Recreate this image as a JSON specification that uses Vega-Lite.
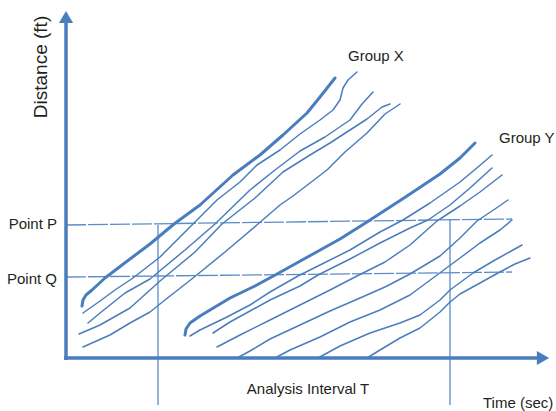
{
  "$schema": "https://vega.github.io/schema/vega-lite/v6.json",
  "width": 556,
  "height": 411,
  "autosize": {"type": "none"},
  "padding": 0,
  "background": "white",
  "config": {"view": {"stroke": null}},
  "datasets": {
    "traj": [
      {"veh": "X1", "role": "lead", "t": 16, "d": 52}, {"veh": "X1", "role": "lead", "t": 17, "d": 58}, {"veh": "X1", "role": "lead", "t": 20, "d": 63}, {"veh": "X1", "role": "lead", "t": 26, "d": 68}, {"veh": "X1", "role": "lead", "t": 39, "d": 80}, {"veh": "X1", "role": "lead", "t": 60, "d": 96}, {"veh": "X1", "role": "lead", "t": 84, "d": 114}, {"veh": "X1", "role": "lead", "t": 108, "d": 134}, {"veh": "X1", "role": "lead", "t": 134, "d": 153}, {"veh": "X1", "role": "lead", "t": 167, "d": 183}, {"veh": "X1", "role": "lead", "t": 194, "d": 203}, {"veh": "X1", "role": "lead", "t": 217, "d": 223}, {"veh": "X1", "role": "lead", "t": 241, "d": 245}, {"veh": "X1", "role": "lead", "t": 254, "d": 261}, {"veh": "X1", "role": "lead", "t": 269, "d": 280},
      {"veh": "X2", "role": "follow", "t": 17, "d": 45}, {"veh": "X2", "role": "follow", "t": 34, "d": 57}, {"veh": "X2", "role": "follow", "t": 49, "d": 68}, {"veh": "X2", "role": "follow", "t": 67, "d": 80}, {"veh": "X2", "role": "follow", "t": 94, "d": 101}, {"veh": "X2", "role": "follow", "t": 126, "d": 133}, {"veh": "X2", "role": "follow", "t": 151, "d": 158}, {"veh": "X2", "role": "follow", "t": 174, "d": 176}, {"veh": "X2", "role": "follow", "t": 191, "d": 193}, {"veh": "X2", "role": "follow", "t": 214, "d": 208}, {"veh": "X2", "role": "follow", "t": 234, "d": 224}, {"veh": "X2", "role": "follow", "t": 254, "d": 238}, {"veh": "X2", "role": "follow", "t": 267, "d": 248}, {"veh": "X2", "role": "follow", "t": 274, "d": 258}, {"veh": "X2", "role": "follow", "t": 277, "d": 270}, {"veh": "X2", "role": "follow", "t": 282, "d": 278}, {"veh": "X2", "role": "follow", "t": 291, "d": 286},
      {"veh": "X3", "role": "follow", "t": 22, "d": 35}, {"veh": "X3", "role": "follow", "t": 34, "d": 45}, {"veh": "X3", "role": "follow", "t": 59, "d": 65}, {"veh": "X3", "role": "follow", "t": 84, "d": 79}, {"veh": "X3", "role": "follow", "t": 119, "d": 108}, {"veh": "X3", "role": "follow", "t": 149, "d": 134}, {"veh": "X3", "role": "follow", "t": 184, "d": 168}, {"veh": "X3", "role": "follow", "t": 209, "d": 188}, {"veh": "X3", "role": "follow", "t": 234, "d": 207}, {"veh": "X3", "role": "follow", "t": 259, "d": 221}, {"veh": "X3", "role": "follow", "t": 284, "d": 238}, {"veh": "X3", "role": "follow", "t": 296, "d": 254}, {"veh": "X3", "role": "follow", "t": 307, "d": 266},
      {"veh": "X4", "role": "follow", "t": 13, "d": 24}, {"veh": "X4", "role": "follow", "t": 34, "d": 33}, {"veh": "X4", "role": "follow", "t": 64, "d": 50}, {"veh": "X4", "role": "follow", "t": 94, "d": 77}, {"veh": "X4", "role": "follow", "t": 129, "d": 106}, {"veh": "X4", "role": "follow", "t": 156, "d": 134}, {"veh": "X4", "role": "follow", "t": 189, "d": 160}, {"veh": "X4", "role": "follow", "t": 217, "d": 186}, {"veh": "X4", "role": "follow", "t": 244, "d": 203}, {"veh": "X4", "role": "follow", "t": 264, "d": 215}, {"veh": "X4", "role": "follow", "t": 284, "d": 228}, {"veh": "X4", "role": "follow", "t": 301, "d": 239}, {"veh": "X4", "role": "follow", "t": 316, "d": 251}, {"veh": "X4", "role": "follow", "t": 324, "d": 254},
      {"veh": "X5", "role": "follow", "t": 17, "d": 11}, {"veh": "X5", "role": "follow", "t": 44, "d": 23}, {"veh": "X5", "role": "follow", "t": 64, "d": 35}, {"veh": "X5", "role": "follow", "t": 84, "d": 46}, {"veh": "X5", "role": "follow", "t": 99, "d": 58}, {"veh": "X5", "role": "follow", "t": 127, "d": 80}, {"veh": "X5", "role": "follow", "t": 159, "d": 106}, {"veh": "X5", "role": "follow", "t": 192, "d": 134}, {"veh": "X5", "role": "follow", "t": 214, "d": 153}, {"veh": "X5", "role": "follow", "t": 227, "d": 162}, {"veh": "X5", "role": "follow", "t": 244, "d": 175}, {"veh": "X5", "role": "follow", "t": 261, "d": 188}, {"veh": "X5", "role": "follow", "t": 279, "d": 206}, {"veh": "X5", "role": "follow", "t": 301, "d": 225}, {"veh": "X5", "role": "follow", "t": 319, "d": 244}, {"veh": "X5", "role": "follow", "t": 334, "d": 254},
      {"veh": "Y1", "role": "lead", "t": 119, "d": 23}, {"veh": "Y1", "role": "lead", "t": 120, "d": 29}, {"veh": "Y1", "role": "lead", "t": 124, "d": 35}, {"veh": "Y1", "role": "lead", "t": 134, "d": 42}, {"veh": "Y1", "role": "lead", "t": 164, "d": 60}, {"veh": "Y1", "role": "lead", "t": 189, "d": 72}, {"veh": "Y1", "role": "lead", "t": 211, "d": 84}, {"veh": "Y1", "role": "lead", "t": 247, "d": 104}, {"veh": "Y1", "role": "lead", "t": 274, "d": 119}, {"veh": "Y1", "role": "lead", "t": 301, "d": 136}, {"veh": "Y1", "role": "lead", "t": 341, "d": 162}, {"veh": "Y1", "role": "lead", "t": 374, "d": 184}, {"veh": "Y1", "role": "lead", "t": 394, "d": 200}, {"veh": "Y1", "role": "lead", "t": 409, "d": 215},
      {"veh": "Y2", "role": "follow", "t": 124, "d": 22}, {"veh": "Y2", "role": "follow", "t": 134, "d": 28}, {"veh": "Y2", "role": "follow", "t": 159, "d": 40}, {"veh": "Y2", "role": "follow", "t": 184, "d": 53}, {"veh": "Y2", "role": "follow", "t": 204, "d": 66}, {"veh": "Y2", "role": "follow", "t": 232, "d": 82}, {"veh": "Y2", "role": "follow", "t": 254, "d": 93}, {"veh": "Y2", "role": "follow", "t": 284, "d": 108}, {"veh": "Y2", "role": "follow", "t": 314, "d": 126}, {"veh": "Y2", "role": "follow", "t": 337, "d": 138}, {"veh": "Y2", "role": "follow", "t": 364, "d": 155}, {"veh": "Y2", "role": "follow", "t": 394, "d": 176}, {"veh": "Y2", "role": "follow", "t": 412, "d": 191}, {"veh": "Y2", "role": "follow", "t": 426, "d": 203},
      {"veh": "Y3", "role": "follow", "t": 147, "d": 25}, {"veh": "Y3", "role": "follow", "t": 164, "d": 36}, {"veh": "Y3", "role": "follow", "t": 184, "d": 47}, {"veh": "Y3", "role": "follow", "t": 204, "d": 58}, {"veh": "Y3", "role": "follow", "t": 234, "d": 72}, {"veh": "Y3", "role": "follow", "t": 252, "d": 83}, {"veh": "Y3", "role": "follow", "t": 284, "d": 99}, {"veh": "Y3", "role": "follow", "t": 314, "d": 115}, {"veh": "Y3", "role": "follow", "t": 344, "d": 130}, {"veh": "Y3", "role": "follow", "t": 362, "d": 138}, {"veh": "Y3", "role": "follow", "t": 384, "d": 153}, {"veh": "Y3", "role": "follow", "t": 404, "d": 170}, {"veh": "Y3", "role": "follow", "t": 426, "d": 190},
      {"veh": "Y4", "role": "follow", "t": 151, "d": 11}, {"veh": "Y4", "role": "follow", "t": 174, "d": 23}, {"veh": "Y4", "role": "follow", "t": 204, "d": 38}, {"veh": "Y4", "role": "follow", "t": 234, "d": 53}, {"veh": "Y4", "role": "follow", "t": 264, "d": 68}, {"veh": "Y4", "role": "follow", "t": 291, "d": 82}, {"veh": "Y4", "role": "follow", "t": 319, "d": 96}, {"veh": "Y4", "role": "follow", "t": 344, "d": 113}, {"veh": "Y4", "role": "follow", "t": 371, "d": 137}, {"veh": "Y4", "role": "follow", "t": 394, "d": 152}, {"veh": "Y4", "role": "follow", "t": 414, "d": 166}, {"veh": "Y4", "role": "follow", "t": 436, "d": 183},
      {"veh": "Y5", "role": "follow", "t": 171, "d": 0}, {"veh": "Y5", "role": "follow", "t": 184, "d": 7}, {"veh": "Y5", "role": "follow", "t": 204, "d": 19}, {"veh": "Y5", "role": "follow", "t": 234, "d": 33}, {"veh": "Y5", "role": "follow", "t": 264, "d": 47}, {"veh": "Y5", "role": "follow", "t": 294, "d": 60}, {"veh": "Y5", "role": "follow", "t": 319, "d": 71}, {"veh": "Y5", "role": "follow", "t": 344, "d": 84}, {"veh": "Y5", "role": "follow", "t": 374, "d": 102}, {"veh": "Y5", "role": "follow", "t": 394, "d": 120}, {"veh": "Y5", "role": "follow", "t": 411, "d": 137}, {"veh": "Y5", "role": "follow", "t": 429, "d": 149}, {"veh": "Y5", "role": "follow", "t": 442, "d": 158},
      {"veh": "Y6", "role": "follow", "t": 209, "d": 0}, {"veh": "Y6", "role": "follow", "t": 224, "d": 8}, {"veh": "Y6", "role": "follow", "t": 254, "d": 21}, {"veh": "Y6", "role": "follow", "t": 284, "d": 36}, {"veh": "Y6", "role": "follow", "t": 314, "d": 48}, {"veh": "Y6", "role": "follow", "t": 344, "d": 63}, {"veh": "Y6", "role": "follow", "t": 371, "d": 83}, {"veh": "Y6", "role": "follow", "t": 394, "d": 100}, {"veh": "Y6", "role": "follow", "t": 414, "d": 115}, {"veh": "Y6", "role": "follow", "t": 434, "d": 128}, {"veh": "Y6", "role": "follow", "t": 446, "d": 138},
      {"veh": "Y7", "role": "follow", "t": 252, "d": 0}, {"veh": "Y7", "role": "follow", "t": 274, "d": 12}, {"veh": "Y7", "role": "follow", "t": 304, "d": 25}, {"veh": "Y7", "role": "follow", "t": 334, "d": 35}, {"veh": "Y7", "role": "follow", "t": 354, "d": 43}, {"veh": "Y7", "role": "follow", "t": 374, "d": 58}, {"veh": "Y7", "role": "follow", "t": 384, "d": 68}, {"veh": "Y7", "role": "follow", "t": 407, "d": 85}, {"veh": "Y7", "role": "follow", "t": 429, "d": 98}, {"veh": "Y7", "role": "follow", "t": 447, "d": 108}, {"veh": "Y7", "role": "follow", "t": 456, "d": 113},
      {"veh": "Y8", "role": "follow", "t": 301, "d": 0}, {"veh": "Y8", "role": "follow", "t": 314, "d": 8}, {"veh": "Y8", "role": "follow", "t": 334, "d": 20}, {"veh": "Y8", "role": "follow", "t": 354, "d": 30}, {"veh": "Y8", "role": "follow", "t": 374, "d": 46}, {"veh": "Y8", "role": "follow", "t": 384, "d": 56}, {"veh": "Y8", "role": "follow", "t": 394, "d": 64}, {"veh": "Y8", "role": "follow", "t": 414, "d": 75}, {"veh": "Y8", "role": "follow", "t": 432, "d": 85}, {"veh": "Y8", "role": "follow", "t": 449, "d": 94}, {"veh": "Y8", "role": "follow", "t": 464, "d": 100}
    ]
  },
  "layer": [
    {
      "data": {"values": [{"name": "P", "t": 0, "d": 133}, {"name": "P", "t": 446, "d": 139}, {"name": "Q", "t": 0, "d": 81}, {"name": "Q", "t": 446, "d": 86}]},
      "mark": {"type": "line", "color": "#5b8cca", "strokeWidth": 1.3, "strokeDash": [20, 2]},
      "encoding": {
        "x": {"field": "t", "type": "quantitative", "scale": {"domain": [-66, 490], "nice": false, "zero": false}, "axis": null},
        "y": {"field": "d", "type": "quantitative", "scale": {"domain": [-53, 358], "nice": false, "zero": false}, "axis": null},
        "detail": {"field": "name"}
      }
    },
    {
      "data": {"values": [{"t": 92, "d": 133, "d2": -47}, {"t": 384, "d": 139, "d2": -47}]},
      "mark": {"type": "rule", "color": "#5b8cca", "strokeWidth": 1.3},
      "encoding": {
        "x": {"field": "t", "type": "quantitative", "scale": {"domain": [-66, 490], "nice": false, "zero": false}, "axis": null},
        "y": {"field": "d", "type": "quantitative", "scale": {"domain": [-53, 358], "nice": false, "zero": false}, "axis": null},
        "y2": {"field": "d2"}
      }
    },
    {
      "data": {"name": "traj"},
      "transform": [{"filter": "datum.role === 'follow'"}],
      "mark": {"type": "line", "color": "#4a7dbd", "strokeWidth": 1.5, "strokeCap": "round", "strokeJoin": "round"},
      "encoding": {
        "x": {"field": "t", "type": "quantitative", "scale": {"domain": [-66, 490], "nice": false, "zero": false}, "axis": null},
        "y": {"field": "d", "type": "quantitative", "scale": {"domain": [-53, 358], "nice": false, "zero": false}, "axis": null},
        "detail": {"field": "veh"}
      }
    },
    {
      "data": {"name": "traj"},
      "transform": [{"filter": "datum.role === 'lead'"}],
      "mark": {"type": "line", "color": "#4a7dbd", "strokeWidth": 3, "strokeCap": "round", "strokeJoin": "round"},
      "encoding": {
        "x": {"field": "t", "type": "quantitative", "scale": {"domain": [-66, 490], "nice": false, "zero": false}, "axis": null},
        "y": {"field": "d", "type": "quantitative", "scale": {"domain": [-53, 358], "nice": false, "zero": false}, "axis": null},
        "detail": {"field": "veh"}
      }
    },
    {
      "data": {"values": [{"t": 0, "d": -2, "d2": 338}]},
      "mark": {"type": "rule", "color": "#4a7dbd", "strokeWidth": 3.5},
      "encoding": {
        "x": {"field": "t", "type": "quantitative", "scale": {"domain": [-66, 490], "nice": false, "zero": false}, "axis": null},
        "y": {"field": "d", "type": "quantitative", "scale": {"domain": [-53, 358], "nice": false, "zero": false}, "axis": null},
        "y2": {"field": "d2"}
      }
    },
    {
      "data": {"values": [{"t": -2, "t2": 474, "d": 0}]},
      "mark": {"type": "rule", "color": "#4a7dbd", "strokeWidth": 3.5},
      "encoding": {
        "x": {"field": "t", "type": "quantitative", "scale": {"domain": [-66, 490], "nice": false, "zero": false}, "axis": null},
        "x2": {"field": "t2"},
        "y": {"field": "d", "type": "quantitative", "scale": {"domain": [-53, 358], "nice": false, "zero": false}, "axis": null}
      }
    },
    {
      "data": {"values": [{"t": 0, "d": 341}]},
      "mark": {"type": "point", "shape": "triangle-up", "filled": true, "color": "#4a7dbd", "size": 200, "opacity": 1},
      "encoding": {
        "x": {"field": "t", "type": "quantitative", "scale": {"domain": [-66, 490], "nice": false, "zero": false}, "axis": null},
        "y": {"field": "d", "type": "quantitative", "scale": {"domain": [-53, 358], "nice": false, "zero": false}, "axis": null}
      }
    },
    {
      "data": {"values": [{"t": 477, "d": 0}]},
      "mark": {"type": "point", "shape": "triangle-right", "filled": true, "color": "#4a7dbd", "size": 200, "opacity": 1},
      "encoding": {
        "x": {"field": "t", "type": "quantitative", "scale": {"domain": [-66, 490], "nice": false, "zero": false}, "axis": null},
        "y": {"field": "d", "type": "quantitative", "scale": {"domain": [-53, 358], "nice": false, "zero": false}, "axis": null}
      }
    },
    {
      "data": {"values": [{"label": "Group X", "t": 282, "d": 297}, {"label": "Group Y", "t": 433, "d": 215}, {"label": "Time (sec)", "t": 417, "d": -50}]},
      "mark": {"type": "text", "align": "left", "baseline": "alphabetic", "font": "Liberation Sans", "fontSize": 15, "color": "#231f20"},
      "encoding": {
        "x": {"field": "t", "type": "quantitative", "scale": {"domain": [-66, 490], "nice": false, "zero": false}, "axis": null},
        "y": {"field": "d", "type": "quantitative", "scale": {"domain": [-53, 358], "nice": false, "zero": false}, "axis": null},
        "text": {"field": "label"}
      }
    },
    {
      "data": {"values": [{"label": "Point P", "t": -9, "d": 129}, {"label": "Point Q", "t": -9, "d": 74}]},
      "mark": {"type": "text", "align": "right", "baseline": "alphabetic", "font": "Liberation Sans", "fontSize": 15, "color": "#231f20"},
      "encoding": {
        "x": {"field": "t", "type": "quantitative", "scale": {"domain": [-66, 490], "nice": false, "zero": false}, "axis": null},
        "y": {"field": "d", "type": "quantitative", "scale": {"domain": [-53, 358], "nice": false, "zero": false}, "axis": null},
        "text": {"field": "label"}
      }
    },
    {
      "data": {"values": [{"label": "Analysis Interval T", "t": 242, "d": -36}]},
      "mark": {"type": "text", "align": "center", "baseline": "alphabetic", "font": "Liberation Sans", "fontSize": 15, "color": "#231f20"},
      "encoding": {
        "x": {"field": "t", "type": "quantitative", "scale": {"domain": [-66, 490], "nice": false, "zero": false}, "axis": null},
        "y": {"field": "d", "type": "quantitative", "scale": {"domain": [-53, 358], "nice": false, "zero": false}, "axis": null},
        "text": {"field": "label"}
      }
    },
    {
      "data": {"values": [{"label": "Distance (ft)", "t": -25, "d": 291}]},
      "mark": {"type": "text", "align": "center", "baseline": "middle", "angle": 270, "font": "Liberation Sans", "fontSize": 19, "color": "#231f20"},
      "encoding": {
        "x": {"field": "t", "type": "quantitative", "scale": {"domain": [-66, 490], "nice": false, "zero": false}, "axis": null},
        "y": {"field": "d", "type": "quantitative", "scale": {"domain": [-53, 358], "nice": false, "zero": false}, "axis": null},
        "text": {"field": "label"}
      }
    }
  ]
}
